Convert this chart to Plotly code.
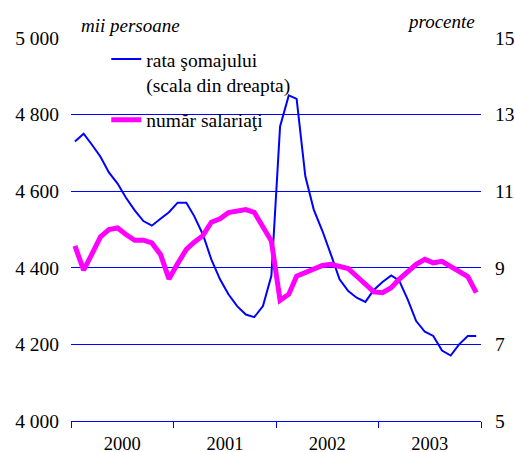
import pandas as pd
import plotly.graph_objects as go

months = list(pd.date_range("2000-01-01", periods=48, freq="MS") + pd.Timedelta(days=14))

rata_somaj = [12.30, 12.50, 12.22, 11.90, 11.49, 11.20, 10.83, 10.50, 10.22, 10.10, 10.28, 10.45,
              10.70, 10.70, 10.35, 9.87, 9.22, 8.70, 8.31, 8.00, 7.78, 7.71, 8.00, 8.79,
              12.69, 13.50, 13.41, 11.39, 10.52, 9.96, 9.35, 8.70, 8.39, 8.22, 8.11, 8.42,
              8.63, 8.80, 8.67, 8.17, 7.61, 7.33, 7.22, 6.84, 6.71, 7.00, 7.22, 7.22]

numar_salariati = [4457, 4394, 4435, 4481, 4500, 4504, 4487, 4472, 4472, 4465, 4435, 4371,
                   4411, 4448, 4467, 4484, 4519, 4528, 4544, 4548, 4552, 4545, 4509, 4470,
                   4315, 4331, 4378, 4387, 4398, 4406, 4409, 4404, 4398, 4378, 4359, 4337,
                   4335, 4348, 4370, 4389, 4409, 4422, 4413, 4417, 4404, 4391, 4377, 4335]

FONT = "Times New Roman, Liberation Serif, Times, serif"

fig = go.Figure()
fig.add_trace(go.Scatter(x=months, y=rata_somaj, name="rata şomajului<br>(scala din dreapta)",
                         legendgroup="a", mode="lines", line=dict(color="#0000ff", width=2),
                         yaxis="y"))
fig.add_trace(go.Scatter(x=months, y=numar_salariati, name="număr salariaţi",
                         legendgroup="b", mode="lines", line=dict(color="#ff00ff", width=5),
                         yaxis="y2"))

fig.update_layout(
    width=515, height=452,
    margin=dict(l=71, r=34, t=38, b=31, autoexpand=False),
    paper_bgcolor="white", plot_bgcolor="white",
    separators=", ",
    font=dict(family=FONT, size=18, color="black"),
    showlegend=True,
    legend=dict(x=0.086, y=0.995, xanchor="left", yanchor="top", bgcolor="rgba(0,0,0,0)",
                font=dict(family=FONT, size=19.5, color="black"), valign="top",
                tracegroupgap=7),
    xaxis=dict(type="date", range=["2000-01-01", "2004-01-01"], dtick="M12", tick0="2000-01-01",
               tickformat="%Y", ticklabelmode="period", ticks="outside", ticklen=6,
               tickcolor="#0000ff", showline=True, linecolor="#0000ff", linewidth=1,
               showgrid=False, zeroline=False, tickfont=dict(family=FONT, size=18.5),
               automargin=False),
    yaxis=dict(range=[5, 15], dtick=2, tick0=5, side="right", showgrid=True,
               gridcolor="#0000ff", gridwidth=1, zeroline=False, ticks="", showline=False,
               tickfont=dict(family=FONT, size=19.5), automargin=False, ticklabelstandoff=13),
    yaxis2=dict(range=[4000, 5000], dtick=200, tick0=4000, side="left", overlaying="y",
                showgrid=False, zeroline=False, tickformat=",d", ticks="", showline=False,
                tickfont=dict(family=FONT, size=19.5), automargin=False, ticklabelstandoff=11),
    annotations=[
        dict(text="<i>mii persoane</i>", xref="paper", yref="paper", x=0.02, y=1.0,
             xanchor="left", yanchor="bottom", showarrow=False,
             font=dict(family=FONT, size=19, color="black")),
        dict(text="<i>procente</i>", xref="paper", yref="paper", x=0.99, y=1.01,
             xanchor="right", yanchor="bottom", showarrow=False,
             font=dict(family=FONT, size=19, color="black")),
    ],
)

fig.write_html("out.html", config={"displayModeBar": False},
               post_script="document.body.style.margin='0px';document.body.style.padding='0px';")
